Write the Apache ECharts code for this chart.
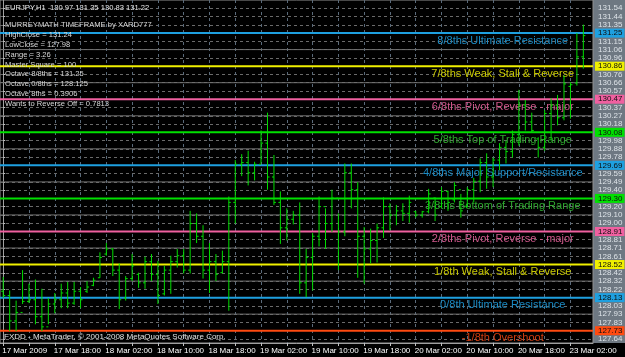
<!DOCTYPE html>
<html><head><meta charset="utf-8">
<script src="https://cdn.jsdelivr.net/npm/echarts@6/dist/echarts.min.js"></script>
<style>html,body{margin:0;padding:0;background:#000;}#c{width:625px;height:357px;}</style>
</head><body><div id="c"></div>
<script>
// ---- data ----
const timeLabels = ['17 Mar 2009','17 Mar 18:00','18 Mar 02:00','18 Mar 10:00','18 Mar 18:00','19 Mar 02:00','19 Mar 10:00','19 Mar 18:00','20 Mar 02:00','20 Mar 10:00','20 Mar 18:00','23 Mar 02:00'];
const labelBars = [0,8,16,24,32,40,48,56,64,72,80,88];
const gridBars = [0,4,8,12,16,20,24,28,32,36,40,44,48,52,56,60,64,68,72,76,80,84,88];
const opens  = [128.20,128.15,127.85,127.95,128.08,128.10,127.90,127.78,128.05,128.10,128.18,128.06,128.20,128.20,128.27,128.36,128.64,128.70,128.45,128.12,128.35,128.40,128.30,128.55,128.40,128.17,128.45,128.55,128.62,128.45,129.00,128.85,128.45,128.55,128.42,128.55,129.25,129.70,129.72,129.60,129.70,129.95,129.55,129.25,128.95,129.05,129.10,128.30,128.60,128.85,129.20,129.00,129.30,128.90,129.60,129.40,128.85,128.70,128.80,128.95,129.20,129.10,129.15,129.12,129.14,129.10,129.14,129.30,129.20,129.38,129.28,129.40,129.20,129.40,129.50,129.72,129.55,129.75,129.90,129.85,130.05,130.40,130.20,130.00,129.90,130.30,130.40,130.25,130.62,130.66,130.97];
const highs  = [128.37,128.21,128.09,128.45,128.29,128.34,128.23,128.12,128.18,128.29,128.31,128.31,128.25,128.32,128.36,128.66,128.77,128.71,128.53,128.38,128.64,128.42,128.61,128.64,128.56,128.50,128.62,128.70,128.70,129.15,129.12,128.98,128.77,128.64,128.68,129.32,129.75,129.82,129.86,129.73,130.10,130.31,129.81,129.38,129.18,129.15,129.25,128.70,128.89,129.32,129.18,129.40,129.12,129.71,129.71,129.49,128.96,128.94,129.00,129.31,129.24,129.22,129.24,129.33,129.15,129.15,129.41,129.31,129.43,129.39,129.49,129.35,129.43,129.54,129.77,129.83,129.78,129.95,129.98,130.10,130.58,130.46,130.31,130.02,130.34,130.48,130.52,130.75,130.67,131.25,131.35];
const lows   = [128.12,127.73,127.73,128.05,128.06,127.81,127.73,127.81,127.94,128.00,128.00,128.04,128.00,128.18,128.26,128.36,128.62,128.38,127.99,128.09,128.32,128.24,128.23,128.32,128.05,128.15,128.17,128.48,128.41,128.41,128.77,128.35,128.18,128.32,128.41,127.97,129.00,129.56,129.45,129.51,129.71,129.40,129.22,128.76,128.80,128.99,128.17,128.13,128.21,128.73,128.70,128.90,128.45,128.85,129.18,128.36,128.29,128.53,128.54,128.83,128.92,128.98,129.03,129.01,129.07,129.07,129.12,129.03,129.19,129.15,129.25,129.07,129.19,129.25,129.37,129.41,129.43,129.63,129.71,129.78,129.92,130.10,130.07,129.78,129.86,129.98,130.16,130.22,130.24,130.63,130.83];
const closes = [128.15,127.85,127.95,128.08,128.10,127.90,127.78,128.05,128.10,128.18,128.06,128.20,128.10,128.25,128.33,128.60,128.70,128.45,128.10,128.35,128.50,128.30,128.55,128.40,128.15,128.45,128.55,128.62,128.45,129.00,128.85,128.45,128.55,128.40,128.55,129.25,129.70,129.72,129.60,129.70,129.95,129.55,129.25,128.95,129.05,129.10,128.30,128.60,128.85,129.20,129.00,129.30,128.90,129.60,129.40,128.85,128.70,128.80,128.95,129.20,129.10,129.15,129.12,129.25,129.10,129.14,129.35,129.10,129.38,129.25,129.45,129.15,129.40,129.50,129.72,129.55,129.75,129.90,129.85,130.05,130.40,130.20,130.10,129.90,130.30,130.40,130.25,130.65,130.64,130.97,131.22];
const priceTicks = [131.543,131.445,131.348,131.250,131.152,131.055,130.957,130.859,130.762,130.664,130.566,130.469,130.371,130.273,130.176,130.078,129.980,129.883,129.785,129.688,129.590,129.492,129.395,129.297,129.199,129.102,129.004,128.906,128.809,128.711,128.613,128.516,128.418,128.320,128.223,128.125,128.027,127.930,127.832,127.734,127.637];
const midLines = [131.055,130.664,130.273,129.883,129.492,129.102,128.711,128.320,127.930];
const levelPrices = [131.25,130.859375,130.46875,130.078125,129.6875,129.296875,128.90625,128.515625,128.125,127.734375];
const levelNames = ['8/8ths Ultimate Resistance','7/8ths Weak, Stall & Reverse','6/8ths Pivot, Reverse - major','5/8ths Top of Trading Range','4/8ths Major Support/Resistance','3/8ths Bottom of Trading Range','2/8ths Pivot, Reverse - major','1/8th Weak, Stall & Reverse','0/8th Ultimate Resistance','-1/8th Overshoot'];
const infoLines = ['MURREYMATH TIMEFRAME by XARD777','HighClose = 131.24','LowClose = 127.98','Range = 3.26','Master Square = 100','Octave 8/8ths = 131.25','Octave 0/8ths = 128.125','Octave 8ths = 0.3906','Wants to Reverse Off = 0.7813'];
const headerText = 'EURJPY,H1  130.97 131.35 130.83 131.22';
const footerText = 'FXDD - MetaTrader, \u00A9 2001-2008 MetaQuotes Software Corp.';

// ---- styles ----
const levelLineColors = ['#1ea0e0','#f0f000','#f060a0','#00e000','#1ea0e0','#00e000','#f060a0','#f0f000','#1ea0e0','#ff4a10'];
const levelTextColors = ['#1a8ac4','#c8c800','#d0588c','#2ea82e','#1a8ac4','#2ea82e','#d0588c','#c8c800','#1a8ac4','#d03c10'];
const Y_MIN = 127.589, Y_MAX = 131.641;

const chart = echarts.init(document.getElementById('c'), null, {renderer:'canvas'});
const bars = opens.map((o,i)=>[i,o,highs[i],lows[i],closes[i]]);

const graphics = [
  {type:'rect', z:-10, shape:{x:593,y:0,width:32,height:343}, style:{fill:'#6e7882'}},
  {type:'text', z:50, x:5, y:8, style:{text:headerText, fill:'#e8e8e8', font:'7.6px "Liberation Sans"', verticalAlign:'middle'}},
  {type:'text', z:50, x:4, y:337, style:{text:footerText, fill:'#e0e0e0', font:'8px "Liberation Sans"', verticalAlign:'middle'}}
];
infoLines.forEach((t,k)=>{
  graphics.push({type:'text', z:50, x:5, y:25+9.875*k, style:{text:t, fill:'#d8d8d8', font:'7.6px "Liberation Sans"', verticalAlign:'middle'}});
});

chart.setOption({
  backgroundColor:'#000',
  animation:false,
  graphic: graphics,
  grid:{left:0, right:32, top:0, bottom:14, show:true, borderColor:'#909090', borderWidth:1, backgroundColor:'transparent'},
  xAxis:{type:'value', min:-0.5, max:91.5,
    axisLine:{show:true, lineStyle:{color:'#a0a0a0'}},
    axisTick:{show:true, customValues:gridBars, length:3, lineStyle:{color:'#c0c0c0'}},
    axisLabel:{show:false},
    splitLine:{show:true, lineStyle:{color:'#5a6a7a', type:[3,3], width:1}}
  },
  yAxis:{type:'value', position:'right', min:Y_MIN, max:Y_MAX,
    axisLine:{show:true, lineStyle:{color:'#a0a0a0'}},
    axisTick:{show:true, customValues:priceTicks, length:2, lineStyle:{color:'#c0c0c0'}},
    axisLabel:{show:false},
    splitLine:{show:true, lineStyle:{color:'#6a6a6a', type:[3,3], width:1}}
  },
  series:[
    {type:'custom', name:'mid', z:2, data: midLines.map(p=>[p]),
      renderItem:(params, api)=>{
        const cs = params.coordSys; const y = api.coord([0, api.value(0)])[1];
        return {type:'line', shape:{x1:cs.x, y1:y, x2:cs.x+cs.width, y2:y}, style:{stroke:'#707070', lineWidth:1}};
      }},
    {type:'custom', name:'levels', z:3, data: levelPrices.map((p,k)=>[p,k]),
      renderItem:(params, api)=>{
        const cs = params.coordSys; const p = api.value(0); const k = api.value(1);
        const y = api.coord([0,p])[1]; const tx = api.coord([77.5,p])[0];
        return {type:'group', children:[
          {type:'line', shape:{x1:cs.x, y1:y, x2:cs.x+cs.width, y2:y}, style:{stroke:levelLineColors[k], lineWidth:2}},
          {type:'text', x:tx, y:y+2, style:{text:levelNames[k], fill:levelTextColors[k], font:'11px "Liberation Sans"', align:'center', verticalAlign:'top'}}
        ]};
      }},
    {type:'custom', name:'priceLabels', z:6, clip:false, data: priceTicks.map(p=>[p]),
      renderItem:(params, api)=>{
        const cs = params.coordSys; const v = api.value(0);
        const y = api.coord([0, v])[1];
        const k = levelPrices.findIndex(p=>Math.abs(p-v)<0.005);
        const st = {text:v.toFixed(2), font:'8px "Liberation Sans"', verticalAlign:'middle', align:'left', padding:[1,2,0,3]};
        if (k>=0) { st.fill = '#101010'; st.backgroundColor = levelLineColors[k]; }
        else { st.fill = '#dde3e8'; }
        return {type:'text', x:cs.x+cs.width+2, y:y, style:st};
      }},
    {type:'custom', name:'time', z:6, clip:false, data: labelBars.map((b,k)=>[b,k]),
      renderItem:(params, api)=>{
        const pt = api.coord([api.value(0), Y_MIN]);
        return {type:'text', x:pt[0]-1, y:pt[1]+8, style:{text:timeLabels[api.value(1)], fill:'#ffffff', font:'8px "Liberation Sans"', align:'left', verticalAlign:'middle'}};
      }},
    {type:'custom', name:'EURJPY', z:5, data: bars,
      renderItem:(params, api)=>{
        const i = api.value(0);
        const pO = api.coord([i, api.value(1)]), pH = api.coord([i, api.value(2)]), pL = api.coord([i, api.value(3)]), pC = api.coord([i, api.value(4)]);
        const st = {stroke:'#00dc00', lineWidth:1};
        return {type:'group', children:[
          {type:'line', shape:{x1:pH[0], y1:pH[1], x2:pL[0], y2:pL[1]}, style:st},
          {type:'line', shape:{x1:pO[0]-2, y1:pO[1], x2:pO[0], y2:pO[1]}, style:st},
          {type:'line', shape:{x1:pC[0], y1:pC[1], x2:pC[0]+2, y2:pC[1]}, style:st}
        ]};
      }}
  ]
});
</script></body></html>
